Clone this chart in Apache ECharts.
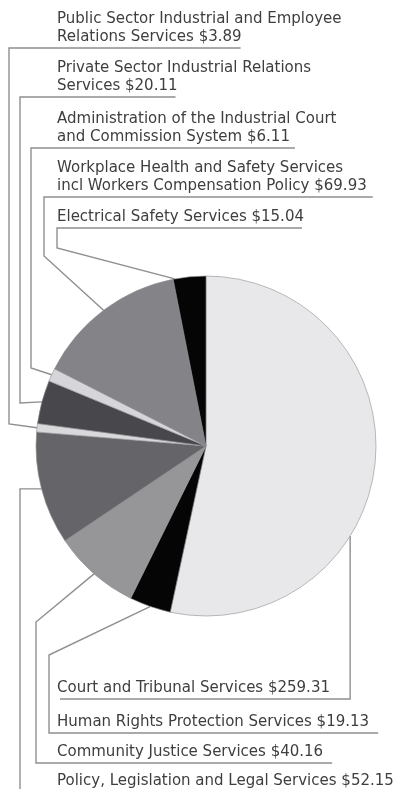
<!DOCTYPE html>
<html>
<head>
<meta charset="utf-8">
<script src="https://cdn.jsdelivr.net/npm/echarts@6/dist/echarts.min.js"></script>
<style>
  html, body { margin: 0; padding: 0; background: #ffffff; }
  #chart { width: 397px; height: 789px; }
</style>
</head>
<body>
<div id="chart"></div>
<script>
// Budget by service area, in $ millions, clockwise from 12 o'clock
const categories = [
  'Court and Tribunal Services',
  'Human Rights Protection Services',
  'Community Justice Services',
  'Policy, Legislation and Legal Services',
  'Public Sector Industrial and Employee Relations Services',
  'Private Sector Industrial Relations Services',
  'Administration of the Industrial Court and Commission System',
  'Workplace Health and Safety Services incl Workers Compensation Policy',
  'Electrical Safety Services'
];
const values = [259.31, 19.13, 40.16, 52.15, 3.89, 20.11, 6.11, 69.93, 15.04];

// Where each label wraps onto a second line
const labelNames = [
  'Court and Tribunal Services',
  'Human Rights Protection Services',
  'Community Justice Services',
  'Policy, Legislation and Legal Services',
  'Public Sector Industrial and Employee\nRelations Services',
  'Private Sector Industrial Relations\nServices',
  'Administration of the Industrial Court\nand Commission System',
  'Workplace Health and Safety Services\nincl Workers Compensation Policy',
  'Electrical Safety Services'
];

const sliceColors = ['#e8e8eb', '#050505', '#969699', '#656569', '#d9d9dc',
                     '#47474c', '#d6d6da', '#848488', '#050505'];

const FONT_SIZE = 15;
const FONT_FAMILY = '"DejaVu Sans", sans-serif';
const LINE_H = 18;
const CX = 206, CY = 446, R = 170;
const TEXT_X = 57;

// Leader routing: underline height, the column the line drops down, and where it turns toward the pie
const leaders = [
  { underY: 699, frac: 0.635, lineEndX: 60 },
  { underY: 733, turnX: 49, turnY: 655, extend: 9 },
  { underY: 763, turnX: 36, turnY: 622, extend: 9 },
  { underY: 792, turnX: 20, turnY: null, extend: 10 },
  { underY: 48,  turnX: 9,  turnY: 424, extend: -1 },
  { underY: 97,  turnX: 20, turnY: 403, extend: -2 },
  { underY: 148, turnX: 31, turnY: 368, extend: 5 },
  { underY: 197, turnX: 44, turnY: 256, extend: 6 },
  { underY: 228, turnX: 57, turnY: 248, extend: -2, frac: 0.05 }
];

const total = values.reduce((s, v) => s + v, 0);
const starts = [];
values.reduce((acc, v, i) => { starts[i] = acc; return acc + v; }, 0);

// point on the pie rim inside slice i (clockwise from top)
function anchorFor(i) {
  const f = leaders[i].frac == null ? 0.5 : leaders[i].frac;
  const t = (starts[i] + f * values[i]) / total * Math.PI * 2;
  return { x: CX + R * Math.sin(t), y: CY - R * Math.cos(t) };
}

function labelText(i) {
  return labelNames[i] + ' $' + values[i].toFixed(2);
}

const measureCtx = document.createElement('canvas').getContext('2d');
function lastLineWidth(i) {
  measureCtx.font = FONT_SIZE + 'px ' + FONT_FAMILY;
  const lines = labelText(i).split('\n');
  return measureCtx.measureText(lines[lines.length - 1]).width;
}

const chart = echarts.init(document.getElementById('chart'), null, { renderer: 'canvas' });

chart.setOption({
  backgroundColor: '#ffffff',
  animation: false,
  series: [{
    type: 'pie',
    center: [CX, CY],
    radius: R,
    startAngle: 90,
    clockwise: true,
    avoidLabelOverlap: false,
    silent: true,
    data: categories.map((name, i) => ({
      name: name,
      value: values[i],
      itemStyle: { color: sliceColors[i] }
    })),
    itemStyle: { borderColor: '#8e8e92', borderWidth: 0.6 },
    label: {
      show: true,
      position: 'outside',
      formatter: (p) => labelText(p.dataIndex),
      color: '#3e3e3e',
      fontSize: FONT_SIZE,
      fontFamily: FONT_FAMILY,
      lineHeight: LINE_H
    },
    labelLine: {
      show: true,
      length: 4,
      length2: 4,
      smooth: false,
      lineStyle: { color: '#8f8f8f', width: 1.4 }
    },
    labelLayout: function (p) {
      const i = p.dataIndex;
      const L = leaders[i];
      const a = anchorFor(i);
      const end = TEXT_X + lastLineWidth(i) + (L.extend || 0);
      let pts;
      if (L.turnX == null) {
        pts = [[a.x, a.y], [a.x, L.underY], [L.lineEndX, L.underY]];
      } else if (L.turnY == null) {
        pts = [[a.x, a.y], [L.turnX, a.y], [L.turnX, L.underY], [end, L.underY]];
      } else {
        pts = [[a.x, a.y], [L.turnX, L.turnY], [L.turnX, L.underY], [end, L.underY]];
      }
      return {
        x: TEXT_X,
        y: L.underY - 2,
        align: 'left',
        verticalAlign: 'bottom',
        labelLinePoints: pts
      };
    }
  }]
});
</script>
</body>
</html>
